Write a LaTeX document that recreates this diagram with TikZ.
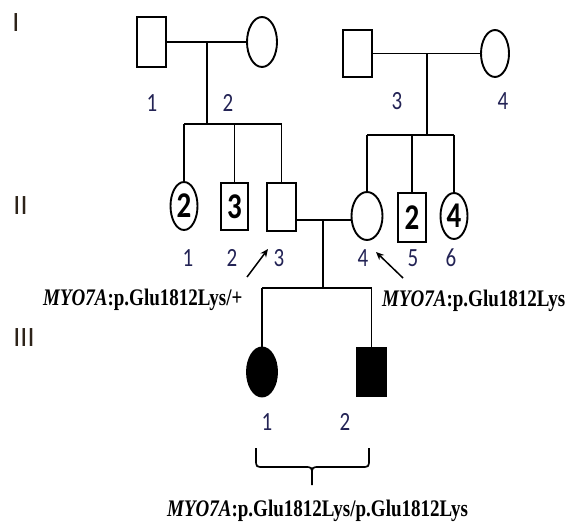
\documentclass[tikz,border=0pt]{standalone}
\usepackage{fontspec}
\setmainfont{Liberation Serif}
\newfontfamily\labfont{Carlito}
\usetikzlibrary{shapes.geometric,arrows.meta}
\definecolor{labcol}{RGB}{35,35,85}
\definecolor{romcol}{RGB}{45,35,25}
\tikzset{
  ln/.style={line width=1.9pt},
  male/.style={draw,line width=1.9pt,rectangle,inner sep=0pt},
  female/.style={draw,line width=1.9pt,ellipse,inner sep=0pt},
  aff/.style={fill=black},
  numlab/.style={text=labcol,font=\labfont\fontsize{21}{21}\selectfont,inner sep=0pt},
  inlab/.style={font=\labfont\bfseries\fontsize{29}{29}\selectfont},
  romlab/.style={text=romcol,font=\labfont\fontsize{28}{28}\selectfont,inner sep=0pt},
  geno/.style={font=\bfseries\fontsize{19}{19}\selectfont,inner sep=0pt},
  arr/.style={line width=1.5pt,-{Stealth[length=8pt,width=7pt]}}
}
\newcommand{\vst}[1]{\scalebox{1}[1.25]{#1}}
\begin{document}
\begin{tikzpicture}[x=1pt,y=-1pt]
\useasboundingbox (0,0) rectangle (585,529);
% Generation I
\node[male,minimum width=29pt,minimum height=50pt] (I1) at (151.5,42) {};
\node[female,minimum width=30pt,minimum height=50pt] (I2) at (262,42) {};
\node[male,minimum width=29pt,minimum height=47pt] (I3) at (357.5,53.5) {};
\node[female,minimum width=28pt,minimum height=47pt] (I4) at (495,53.5) {};
% Generation II
\node[female,minimum width=27pt,minimum height=48pt,inlab] (II1) at (184,206) {\vst{2}};
\node[male,minimum width=27pt,minimum height=47pt,inlab] (II2) at (234.5,206.5) {\vst{3}};
\node[male,minimum width=29pt,minimum height=48pt] (II3) at (281.5,207) {};
\node[female,minimum width=31pt,minimum height=48pt] (II4) at (367,216) {};
\node[male,minimum width=28pt,minimum height=49pt,inlab] (II5) at (412,217.5) {\vst{2}};
\node[female,minimum width=27pt,minimum height=46pt,inlab] (II6) at (454,216) {\vst{4}};
% Generation III
\node[female,aff,minimum width=30pt,minimum height=49pt] (III1) at (262,372) {};
\node[male,aff,minimum width=29pt,minimum height=48pt] (III2) at (371.5,372) {};
% coordinates
\coordinate (m1) at (207,42);
\coordinate (s1) at (207,124);
\coordinate (m2) at (427,53.5);
\coordinate (s2) at (427,135);
\coordinate (m3) at (323,220);
\coordinate (s3) at (323,288);
% lines family 1
\draw[ln] (I1.east) -- (I2.west);
\draw[ln] (m1) -- (s1);
\draw[ln] (s1 -| II1.north) -- (s1 -| II3.north);
\draw[ln] (s1 -| II1.north) -- (II1.north);
\draw[ln] (s1 -| II2.north) -- (II2.north);
\draw[ln] (s1 -| II3.north) -- (II3.north);
% lines family 2
\draw[ln] (I3.east) -- (I4.west);
\draw[ln] (m2) -- (s2);
\draw[ln] (s2 -| II4.north) -- (s2 -| II6.north);
\draw[ln] (s2 -| II4.north) -- (II4.north);
\draw[ln] (s2 -| II5.north) -- (II5.north);
\draw[ln] (s2 -| II6.north) -- (II6.north);
% marriage II
\draw[ln] (m3 -| II3.east) -- (m3 -| II4.west);
\draw[ln] (m3) -- (s3);
\draw[ln] (s3 -| III1.north) -- (s3 -| III2.north);
\draw[ln] (s3 -| III1.north) -- (III1.north);
\draw[ln] (s3 -| III2.north) -- (III2.north);
% roman numerals
\node[romlab] (gI) at (16,23) {I};
\node[romlab] (gII) at (20.5,206) {II};
\node[romlab] (gIII) at (24,338) {III};
% individual numbers
\node[numlab] (lI1) at (152,103) {\vst{1}};
\node[numlab] (lI2) at (228,103) {\vst{2}};
\node[numlab] (lI3) at (397,101) {\vst{3}};
\node[numlab] (lI4) at (503,101) {\vst{4}};
\node[numlab] (lII1) at (188,258) {\vst{1}};
\node[numlab] (lII2) at (232,258) {\vst{2}};
\node[numlab] (lII3) at (279,258) {\vst{3}};
\node[numlab] (lII4) at (363,258) {\vst{4}};
\node[numlab] (lII5) at (413,258) {\vst{5}};
\node[numlab] (lII6) at (451,258) {\vst{6}};
\node[numlab] (lIII1) at (267,422) {\vst{1}};
\node[numlab] (lIII2) at (345,422) {\vst{2}};
% arrows
\coordinate (a1s) at (247,277);
\coordinate (a1e) at (268,249);
\coordinate (a2s) at (403,278);
\coordinate (a2e) at (376,252);
\draw[arr] (a1s) -- (a1e);
\draw[arr] (a2s) -- (a2e);
% genotype labels
\node[geno,anchor=west] (g1) at (43,299.5) {\vst{\textit{MYO7A}:p.Glu1812Lys/+}};
\node[geno,anchor=west] (g2) at (382,300.5) {\vst{\textit{MYO7A}:p.Glu1812Lys}};
\node[geno,anchor=west] (g3) at (167,510.5) {\vst{\textit{MYO7A}:p.Glu1812Lys/p.Glu1812Lys}};
% brace
\draw[line width=1.7pt] (256,448) -- (256,459) .. controls (256,467) .. (264,467) -- (304,467) .. controls (312,467) .. (312,475) -- (312,485);
\draw[line width=1.7pt] (369,448) -- (369,459) .. controls (369,467) .. (361,467) -- (320,467) .. controls (312,467) .. (312,475);
\end{tikzpicture}
\end{document}
